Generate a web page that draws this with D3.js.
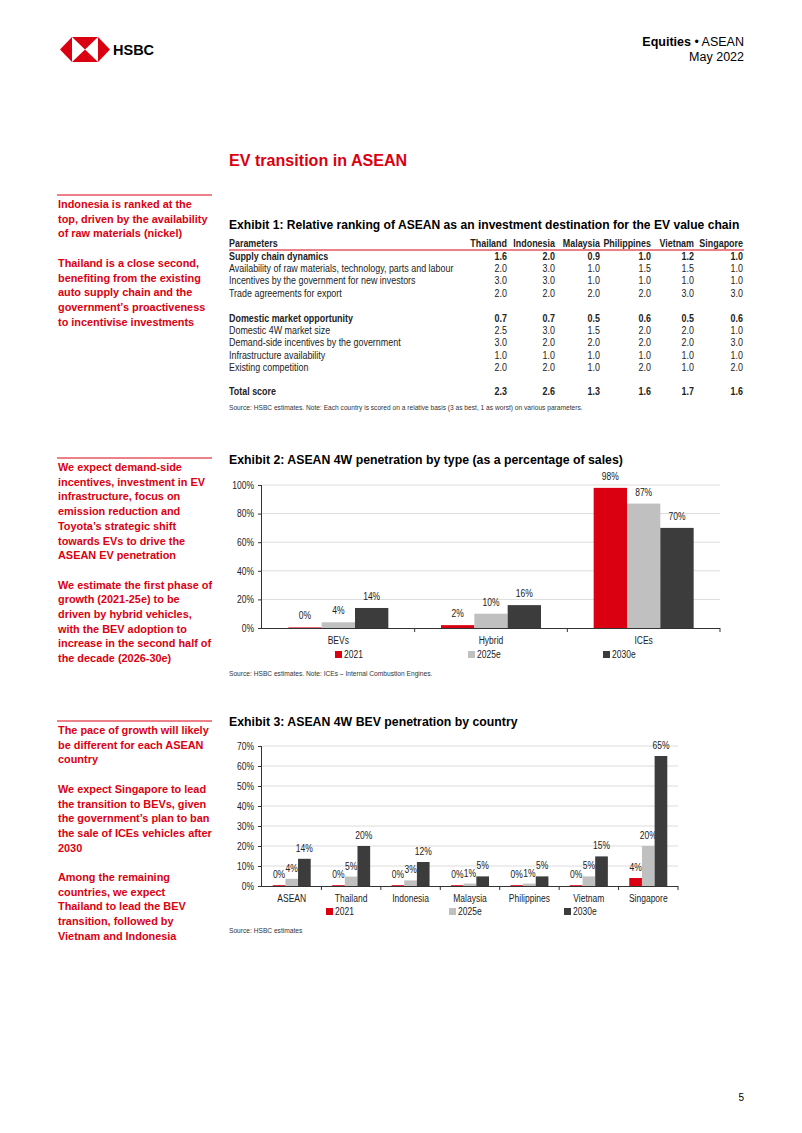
<!DOCTYPE html>
<html><head><meta charset="utf-8">
<script src="https://cdn.jsdelivr.net/npm/d3@7"></script>
<style>
body{margin:0;background:#fff;}
svg{display:block;}
.narrow{font-family:"Liberation Sans",Arial,sans-serif;}
.sans{font-family:"Liberation Sans",Arial,sans-serif;}
</style></head>
<body>
<svg id="page" width="802" height="1133"></svg>
<script>
// ---------- DATA ----------
const tableCountries = ["Thailand","Indonesia","Malaysia","Philippines","Vietnam","Singapore"];
const tableParams = ["Supply chain dynamics","Availability of raw materials, technology, parts and labour","Incentives by the government for new investors","Trade agreements for export","","Domestic market opportunity","Domestic 4W market size","Demand-side incentives by the government","Infrastructure availability","Existing competition","","Total score"];
const tableBold = [true,false,false,false,false,true,false,false,false,false,false,true];
const tableValues = [
  ["1.6","2.0","0.9","1.0","1.2","1.0"],
  ["2.0","3.0","1.0","1.5","1.5","1.0"],
  ["3.0","3.0","1.0","1.0","1.0","1.0"],
  ["2.0","2.0","2.0","2.0","3.0","3.0"],
  [],
  ["0.7","0.7","0.5","0.6","0.5","0.6"],
  ["2.5","3.0","1.5","2.0","2.0","1.0"],
  ["3.0","2.0","2.0","2.0","2.0","3.0"],
  ["1.0","1.0","1.0","1.0","1.0","1.0"],
  ["2.0","2.0","1.0","2.0","1.0","2.0"],
  [],
  ["2.3","2.6","1.3","1.6","1.7","1.6"]
];

const seriesNames = ["2021","2025e","2030e"];

const ex2Categories = ["BEVs","Hybrid","ICEs"];
const ex2_2021 = [0.4, 2, 98];
const ex2_2025 = [4, 10, 87];
const ex2_2030 = [14, 16, 70];
const ex2Ticks = [0,20,40,60,80,100];

const ex3Categories = ["ASEAN","Thailand","Indonesia","Malaysia","Philippines","Vietnam","Singapore"];
const ex3_2021 = [0.4, 0.4, 0.4, 0.4, 0.4, 0.4, 4];
const ex3_2025 = [3.6, 4.7, 2.8, 1.2, 1.2, 4.8, 20];
const ex3_2030 = [13.6, 20, 12, 4.8, 4.8, 14.8, 65];
const ex3Ticks = [0,10,20,30,40,50,60,70];

const sideNotes = [
  {y:204, lines:["Indonesia is ranked at the","top, driven by the availability","of raw materials (nickel)","","Thailand is a close second,","benefiting from the existing","auto supply chain and the","government’s proactiveness","to incentivise investments"]},
  {y:467, lines:["We expect demand-side","incentives, investment in EV","infrastructure, focus on","emission reduction and","Toyota’s strategic shift","towards EVs to drive the","ASEAN EV penetration","","We estimate the first phase of","growth (2021-25e) to be","driven by hybrid vehicles,","with the BEV adoption to","increase in the second half of","the decade (2026-30e)"]},
  {y:730, lines:["The pace of growth will likely","be different for each ASEAN","country","","We expect Singapore to lead","the transition to BEVs, given","the government’s plan to ban","the sale of ICEs vehicles after","2030","","Among the remaining","countries, we expect","Thailand to lead the BEV","transition, followed by","Vietnam and Indonesia"]}
];

// ---------- STYLE ----------
const RED = "#db0011", LGRAY = "#c0c0c0", DGRAY = "#3c3c3c", TXT = "#222";
const colors = [RED, LGRAY, DGRAY];
const NARROW = 0.85;

const svg = d3.select("#page");

// ---------- HEADER ----------
const logo = svg.append("g");
const L = {x0:60, x1:72, xc:85, x2:98, x3:110, y0:37, ym:49.5, y1:62};
logo.append("polygon").attr("points",`${L.x0},${L.ym} ${L.x1},${L.y0} ${L.x1},${L.y1}`).attr("fill",RED);
logo.append("polygon").attr("points",`${L.x1},${L.y0} ${L.x2},${L.y0} ${L.xc},${L.ym}`).attr("fill",RED);
logo.append("polygon").attr("points",`${L.x1},${L.y1} ${L.x2},${L.y1} ${L.xc},${L.ym}`).attr("fill",RED);
logo.append("polygon").attr("points",`${L.x3},${L.ym} ${L.x2},${L.y0} ${L.x2},${L.y1}`).attr("fill",RED);
svg.append("text").attr("class","sans").attr("x",113).attr("y",55).attr("font-size",14.5).attr("font-weight","bold").attr("fill","#000").text("HSBC");

const hdr = svg.append("text").attr("class","sans").attr("x",744).attr("y",46).attr("text-anchor","end").attr("font-size",12.5).attr("fill","#000");
hdr.append("tspan").attr("font-weight","bold").text("Equities ");
hdr.append("tspan").text("• ASEAN");
svg.append("text").attr("class","sans").attr("x",744).attr("y",61).attr("text-anchor","end").attr("font-size",12.5).attr("fill","#000").text("May 2022");

svg.append("text").attr("class","sans").attr("x",229).attr("y",166).attr("font-size",16.1).attr("font-weight","bold").attr("fill",RED).text("EV transition in ASEAN");

// ---------- SIDE NOTES ----------
sideNotes.forEach(n=>{
  svg.append("line").attr("x1",57).attr("x2",212).attr("y1",n.y-9).attr("y2",n.y-9).attr("stroke",RED).attr("stroke-width",1);
  const t = svg.append("text").attr("class","sans").attr("font-size",10.9).attr("font-weight","bold").attr("fill",RED);
  n.lines.forEach((l,i)=>{
    t.append("tspan").attr("x",58).attr("y",n.y+4+i*14.7).text(l);
  });
});

// ---------- EXHIBIT 1 TABLE ----------
svg.append("text").attr("class","sans").attr("x",229).attr("y",229).attr("font-size",12.1).attr("font-weight","bold").attr("fill","#000").text("Exhibit 1: Relative ranking of ASEAN as an investment destination for the EV value chain");
const colRight = [507,555,600,651,694,743];
const tg = svg.append("g").attr("class","narrow").attr("font-size",10.5).attr("fill",TXT);
tg.append("text").attr("x",229).attr("y",247).attr("font-weight","bold").text("Parameters");
tableCountries.forEach((c,i)=>tg.append("text").attr("x",colRight[i]).attr("y",247).attr("text-anchor","end").attr("font-weight","bold").text(c));
svg.append("line").attr("x1",229).attr("x2",744).attr("y1",250).attr("y2",250).attr("stroke",RED).attr("stroke-width",1);
const rowY = [260,272,284,297,309,322,334,346,359,371,383,395];
tableParams.forEach((p,r)=>{
  if(!p) return;
  tg.append("text").attr("x",229).attr("y",rowY[r]).attr("font-weight",tableBold[r]?"bold":"normal").text(p);
  tableValues[r].forEach((v,i)=>tg.append("text").attr("x",colRight[i]).attr("y",rowY[r]).attr("text-anchor","end").attr("font-weight",tableBold[r]?"bold":"normal").text(v));
});
svg.append("g").attr("class","narrow").append("text").attr("x",229).attr("y",410).attr("font-size",7.8).attr("fill","#333").text("Source: HSBC estimates. Note: Each country is scored on a relative basis (3 as best, 1 as worst) on various parameters.");

// ---------- GROUPED BAR CHART ----------
function barChart(o){
  const g = svg.append("g").attr("class","narrow");
  const y = d3.scaleLinear().domain([0,o.max]).range([o.y0,o.y1]);
  const x = d3.scaleBand().domain(o.cats).range([o.xl,o.xr]).paddingInner(0).paddingOuter(0);
  const x1 = d3.scaleBand().domain(seriesNames).range([0,o.groupW]);
  g.append("g").selectAll("line").data(o.ticks.filter(t=>t>0)).join("line")
    .attr("x1",o.xl).attr("x2",o.xr).attr("y1",d=>y(d)).attr("y2",d=>y(d)).attr("stroke","#dcdcdc").attr("stroke-width",1);
  o.series.forEach((vals,s)=>{
    g.append("g").selectAll("rect").data(vals).join("rect")
      .attr("x",(d,i)=>x(o.cats[i])+(x.bandwidth()-o.groupW)/2+x1(seriesNames[s]))
      .attr("width",x1.bandwidth())
      .attr("y",d=>y(d)).attr("height",d=>o.y0-y(d)).attr("fill",colors[s]);
    g.append("g").selectAll("text").data(vals).join("text")
      .attr("x",(d,i)=>x(o.cats[i])+(x.bandwidth()-o.groupW)/2+x1(seriesNames[s])+x1.bandwidth()/2)
      .attr("y",d=>y(d)-o.labGap).attr("text-anchor","middle").attr("font-size",o.fs).attr("fill",TXT)
      .text(d=>Math.round(d)+"%");
  });
  const ya = g.append("g").attr("transform",`translate(${o.xl},0)`)
    .call(d3.axisLeft(y).tickValues(o.ticks).tickFormat(d=>d+"%").tickSize(4).tickPadding(4));
  ya.attr("font-family",null).attr("font-size",null);
  ya.select(".domain").attr("stroke","#333").attr("d",`M-0.5,${o.y0}V${o.y1}`);
  ya.selectAll(".tick line").attr("stroke","#333");
  ya.selectAll("text").attr("font-size",o.fs).attr("fill",TXT);
  g.append("line").attr("x1",o.xl).attr("x2",o.xr).attr("y1",o.y0+0.5).attr("y2",o.y0+0.5).attr("stroke","#333");
  g.append("g").selectAll("line").data(o.cats).join("line")
    .attr("x1",(d,i)=>o.xl+(i+1)*x.bandwidth()).attr("x2",(d,i)=>o.xl+(i+1)*x.bandwidth())
    .attr("y1",o.y0).attr("y2",o.y0+4).attr("stroke","#333");
  g.append("g").selectAll("text").data(o.cats).join("text")
    .attr("x",d=>x(d)+x.bandwidth()/2).attr("y",o.catY).attr("text-anchor","middle").attr("font-size",o.fs).attr("fill",TXT).text(d=>d);
  seriesNames.forEach((s,i)=>{
    g.append("rect").attr("x",o.legX[i]).attr("y",o.legY-7).attr("width",7).attr("height",7).attr("fill",colors[i]);
    g.append("text").attr("x",o.legX[i]+9).attr("y",o.legY).attr("font-size",o.fs).attr("fill",TXT).text(s);
  });
  g.append("text").attr("x",229).attr("y",o.srcY).attr("font-size",7.8).attr("fill","#333").text(o.src);
}

svg.append("text").attr("class","sans").attr("x",229).attr("y",464).attr("font-size",12.3).attr("font-weight","bold").attr("fill","#000").text("Exhibit 2: ASEAN 4W penetration by type (as a percentage of sales)");
barChart({cats:ex2Categories, series:[ex2_2021,ex2_2025,ex2_2030], max:100, ticks:ex2Ticks,
  xl:262, xr:720, y0:628, y1:485, groupW:100, labGap:8, fs:10, catY:644,
  legX:[335,468,603], legY:658, srcY:676, src:"Source: HSBC estimates. Note: ICEs – Internal Combustion Engines."});

svg.append("text").attr("class","sans").attr("x",229).attr("y",726).attr("font-size",12.3).attr("font-weight","bold").attr("fill","#000").text("Exhibit 3: ASEAN 4W BEV penetration by country");
barChart({cats:ex3Categories, series:[ex3_2021,ex3_2025,ex3_2030], max:70, ticks:ex3Ticks,
  xl:262, xr:678, y0:886, y1:746, groupW:38, labGap:7, fs:10, catY:902,
  legX:[326,449,564], legY:915, srcY:933, src:"Source: HSBC estimates"});

svg.append("text").attr("class","sans").attr("x",744).attr("y",1101).attr("text-anchor","end").attr("font-size",10).attr("fill","#000").text("5");

// condense the narrow-font texts (Arial Narrow look)
svg.selectAll(".narrow text").each(function(){
  const len = this.getComputedTextLength();
  d3.select(this).attr("textLength", len*NARROW).attr("lengthAdjust","spacingAndGlyphs");
});
</script>
</body></html>
